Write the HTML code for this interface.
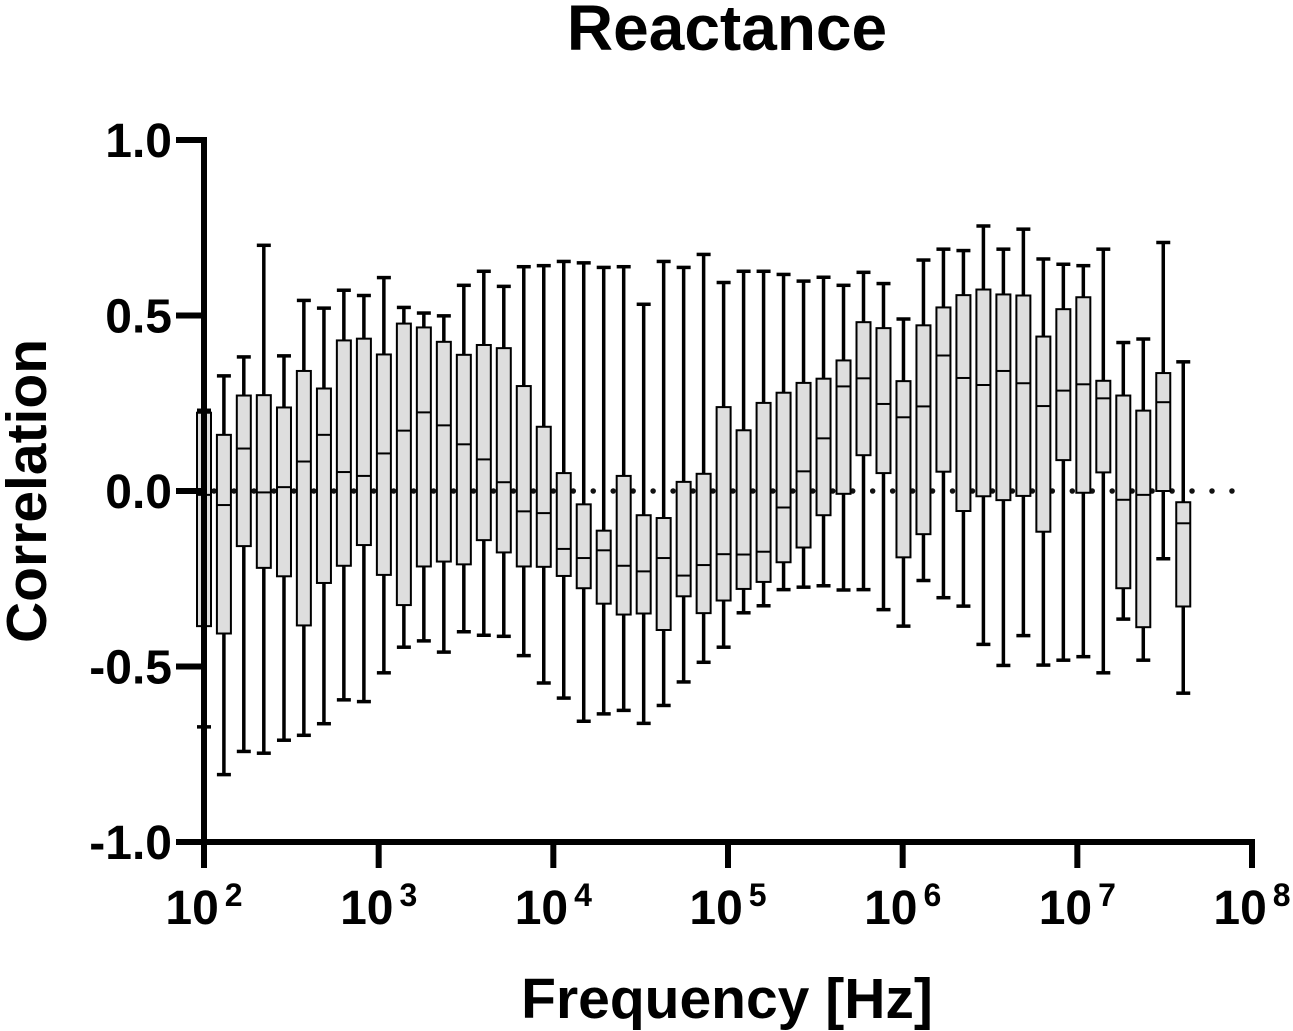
<!DOCTYPE html>
<html><head><meta charset="utf-8"><style>
html,body{margin:0;padding:0;background:#fff;}
svg{display:block;font-family:"Liberation Sans",Arial,sans-serif;}
</style></head><body>
<svg id="chart" width="1293" height="1031" viewBox="0 0 1293 1031" xmlns="http://www.w3.org/2000/svg">
<text x="727" y="50" text-anchor="middle" font-size="64" font-weight="bold">Reactance</text>
<text transform="translate(46,491) rotate(-90)" text-anchor="middle" font-size="57" font-weight="bold">Correlation</text>
<text x="727" y="1018" text-anchor="middle" font-size="57" font-weight="bold">Frequency [Hz]</text>
<g id="plot"></g>
</svg>
<script>
const freqs=[100,130,169,220,287,373,486,632,823,1071,1394,1814,2361,3073,3999,5204,6773,8814,11471,14928,19427,25282,32903,42820,55726,72522,94380,122828,159850,208031,270734,352335,458533,596741,776604,1010680,1315305,1711750,2227688,2899140,3772964,4910177,6390182,8316269,10822902,14085080,18330548,23855527,31045761,40403000];
const whiskerHigh=[0.23,0.328,0.382,0.700,0.385,0.543,0.521,0.572,0.557,0.608,0.523,0.507,0.499,0.586,0.626,0.583,0.639,0.642,0.654,0.650,0.637,0.639,0.532,0.654,0.637,0.674,0.594,0.626,0.626,0.617,0.598,0.609,0.586,0.623,0.591,0.490,0.658,0.689,0.685,0.755,0.689,0.746,0.661,0.646,0.642,0.689,0.423,0.433,0.708,0.368];
const q3=[0.223,0.160,0.272,0.273,0.238,0.342,0.292,0.429,0.434,0.389,0.477,0.466,0.425,0.388,0.416,0.407,0.299,0.183,0.051,-0.038,-0.113,0.043,-0.069,-0.077,0.026,0.049,0.239,0.173,0.251,0.280,0.308,0.320,0.372,0.481,0.464,0.313,0.472,0.523,0.558,0.574,0.560,0.557,0.440,0.518,0.552,0.314,0.272,0.229,0.336,-0.032];
const medians=[-0.011,-0.040,0.121,-0.004,0.011,0.084,0.160,0.054,0.043,0.107,0.172,0.224,0.187,0.133,0.090,0.025,-0.058,-0.063,-0.165,-0.191,-0.169,-0.213,-0.229,-0.191,-0.241,-0.211,-0.180,-0.181,-0.173,-0.047,0.056,0.150,0.298,0.321,0.248,0.210,0.241,0.386,0.322,0.302,0.342,0.307,0.242,0.286,0.304,0.264,-0.025,-0.011,0.253,-0.092];
const q1=[-0.385,-0.406,-0.157,-0.219,-0.243,-0.383,-0.262,-0.213,-0.154,-0.239,-0.325,-0.215,-0.201,-0.209,-0.140,-0.175,-0.215,-0.216,-0.242,-0.277,-0.321,-0.352,-0.349,-0.396,-0.300,-0.348,-0.312,-0.279,-0.259,-0.203,-0.161,-0.069,-0.008,0.102,0.051,-0.189,-0.123,0.055,-0.057,-0.015,-0.026,-0.014,-0.116,0.088,-0.005,0.053,-0.277,-0.388,0.000,-0.329];
const whiskerLow=[-0.672,-0.808,-0.742,-0.747,-0.710,-0.696,-0.663,-0.595,-0.600,-0.518,-0.445,-0.427,-0.459,-0.401,-0.411,-0.414,-0.469,-0.547,-0.590,-0.656,-0.635,-0.625,-0.662,-0.611,-0.544,-0.488,-0.445,-0.347,-0.327,-0.281,-0.274,-0.270,-0.282,-0.281,-0.338,-0.385,-0.255,-0.304,-0.328,-0.437,-0.497,-0.412,-0.496,-0.482,-0.472,-0.518,-0.365,-0.482,-0.193,-0.576];
const yTicks=[1.0,0.5,0.0,-0.5,-1.0];
const yTickLabels=["1.0","0.5","0.0","-0.5","-1.0"];
const xTickExps=[2,3,4,5,6,7,8];

const NS="http://www.w3.org/2000/svg";
const g=document.getElementById('plot');
const X0=204,X1=1252,Y0=140,Y1=842;
function xs(f){return X0+(Math.log10(f)-2)/6*(X1-X0);}
function ys(v){return Y0+(1-v)/2*(Y1-Y0);}
function mk(tag,attrs,parent){const e=document.createElementNS(NS,tag);for(const k in attrs)e.setAttribute(k,attrs[k]);(parent||g).appendChild(e);return e;}

const zl=mk('line',{x1:X0+10,y1:ys(0),x2:1235,y2:ys(0),stroke:'#111','stroke-width':5.5,'stroke-linecap':'round','stroke-dasharray':'0 19.96'});



const bw=14;
for(let i=0;i<freqs.length;i++){
  const x=xs(freqs[i]);
  const bg=mk('g',{});
  
  
  mk('line',{x1:x,y1:ys(whiskerHigh[i]),x2:x,y2:ys(q3[i]),stroke:'#000','stroke-width':3.5},bg);
  mk('line',{x1:x,y1:ys(q1[i]),x2:x,y2:ys(whiskerLow[i]),stroke:'#000','stroke-width':3.5},bg);
  mk('line',{x1:x-bw/2,y1:ys(whiskerHigh[i]),x2:x+bw/2,y2:ys(whiskerHigh[i]),stroke:'#000','stroke-width':3.5},bg);
  mk('line',{x1:x-bw/2,y1:ys(whiskerLow[i]),x2:x+bw/2,y2:ys(whiskerLow[i]),stroke:'#000','stroke-width':3.5},bg);
  mk('rect',{x:x-bw/2,y:ys(q3[i]),width:bw,height:ys(q1[i])-ys(q3[i]),fill:'#dedede',stroke:'#000','stroke-width':2},bg);
  mk('line',{x1:x-bw/2,y1:ys(medians[i]),x2:x+bw/2,y2:ys(medians[i]),stroke:'#000','stroke-width':2},bg);
}

const ya=mk('line',{x1:X0,y1:Y0-3,x2:X0,y2:Y1+3,stroke:'#000','stroke-width':6});


const xa=mk('line',{x1:X0-3,y1:Y1,x2:X1+3,y2:Y1,stroke:'#000','stroke-width':6});



yTicks.forEach((v,i)=>{
  const y=ys(v);
  const t=mk('line',{x1:X0,y1:y,x2:176,y2:y,stroke:'#000','stroke-width':6});
  
  
  const l=mk('text',{x:172,y:y+17,'text-anchor':'end','font-size':48,'font-weight':'bold'});
  l.textContent=yTickLabels[i];
  
  
});
xTickExps.forEach(e=>{
  const x=xs(Math.pow(10,e));
  const t=mk('line',{x1:x,y1:Y1,x2:x,y2:868,stroke:'#000','stroke-width':6});
  
  
  const l=mk('text',{x:x,y:924,'text-anchor':'middle','font-size':48,'font-weight':'bold'});
  
  
  l.textContent='10';
  const s=mk('tspan',{dx:6,dy:-18,'font-size':32},l);
  s.textContent=String(e);
});
</script>
</body></html>
